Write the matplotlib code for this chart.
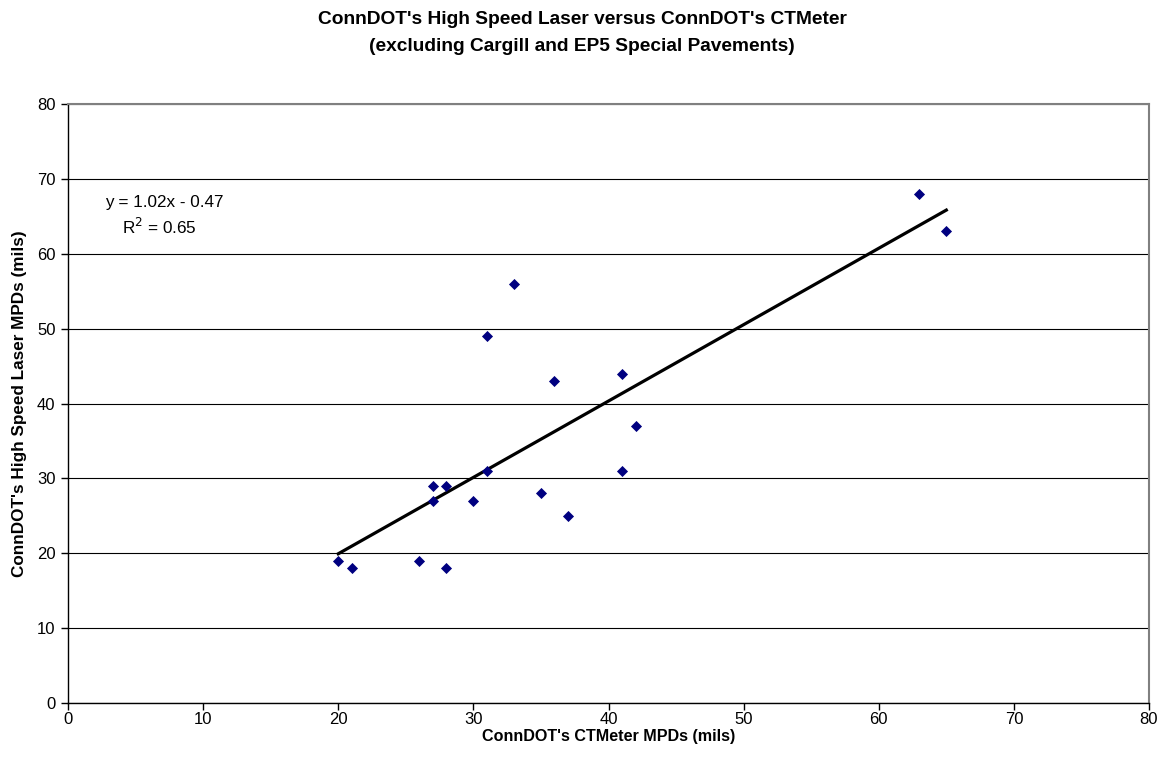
import numpy as np
import matplotlib
matplotlib.use("Agg")
import matplotlib.pyplot as plt

plt.rcParams['font.family'] = ['Liberation Sans', 'DejaVu Sans']

ctmeter = [20, 21, 26, 27, 27, 28, 28, 30, 31, 31, 33, 35, 36, 37, 41, 41, 42, 63, 65]
laser = [19, 18, 19, 29, 27, 29, 18, 27, 31, 49, 56, 28, 43, 25, 44, 31, 37, 68, 63]
x_ticks = [0, 10, 20, 30, 40, 50, 60, 70, 80]
y_ticks = [0, 10, 20, 30, 40, 50, 60, 70, 80]

trend_slope = 1.02
trend_intercept = -0.47
trend_r2 = 0.65

title = "ConnDOT's High Speed Laser versus ConnDOT's CTMeter\n(excluding Cargill and EP5 Special Pavements)"
xlabel = "ConnDOT's CTMeter MPDs (mils)"
ylabel = "ConnDOT's High Speed Laser MPDs (mils)"

fig = plt.figure(figsize=(11.64, 7.69), dpi=100)
ax = fig.add_axes([68 / 1164, 1 - 703 / 769, (1149 - 68) / 1164, (703 - 104) / 769])

x = np.array(ctmeter, dtype=float)
y = np.array(laser, dtype=float)
ax.scatter(x, y, marker='D', s=32, color='#000080', zorder=3, linewidths=0)

xs = np.array([x.min(), x.max()])
ax.plot(xs, trend_slope * xs + trend_intercept, color='black', lw=2.3, zorder=2)
ax.text(105 / 1164, 1 - 202 / 769, f"y = {trend_slope:.2f}x - {abs(trend_intercept):.2f}",
        transform=fig.transFigure, fontsize=12.3, ha='left', va='center')
ax.text(122 / 1164, 1 - 227 / 769, f"R$^2$ = {trend_r2:.2f}", transform=fig.transFigure,
        fontsize=12.3, ha='left', va='center')

ax.set_xlim(0, 80)
ax.set_ylim(0, 80)
ax.set_xticks(x_ticks)
ax.set_yticks(y_ticks)
ax.tick_params(direction='out', length=5, width=1, labelsize=12, pad=4)
ax.tick_params(axis='x', pad=1.5)
ax.yaxis.grid(True, color='black', lw=0.8)
ax.set_axisbelow(True)
for s in ['top', 'right']:
    ax.spines[s].set_color('#808080')
    ax.spines[s].set_linewidth(1.5)
for s in ['left', 'bottom']:
    ax.spines[s].set_color('black')
    ax.spines[s].set_linewidth(1)

ax.set_xlabel(xlabel, fontsize=11.6, fontweight='bold', labelpad=1.5)
ax.set_ylabel(ylabel, fontsize=12.3, fontweight='bold', labelpad=7)
fig.text(0.5, 1 - 33 / 769, title, ha='center', va='center', fontsize=13.8, fontweight='bold',
         linespacing=1.75)

fig.savefig('out.png', dpi=100)
